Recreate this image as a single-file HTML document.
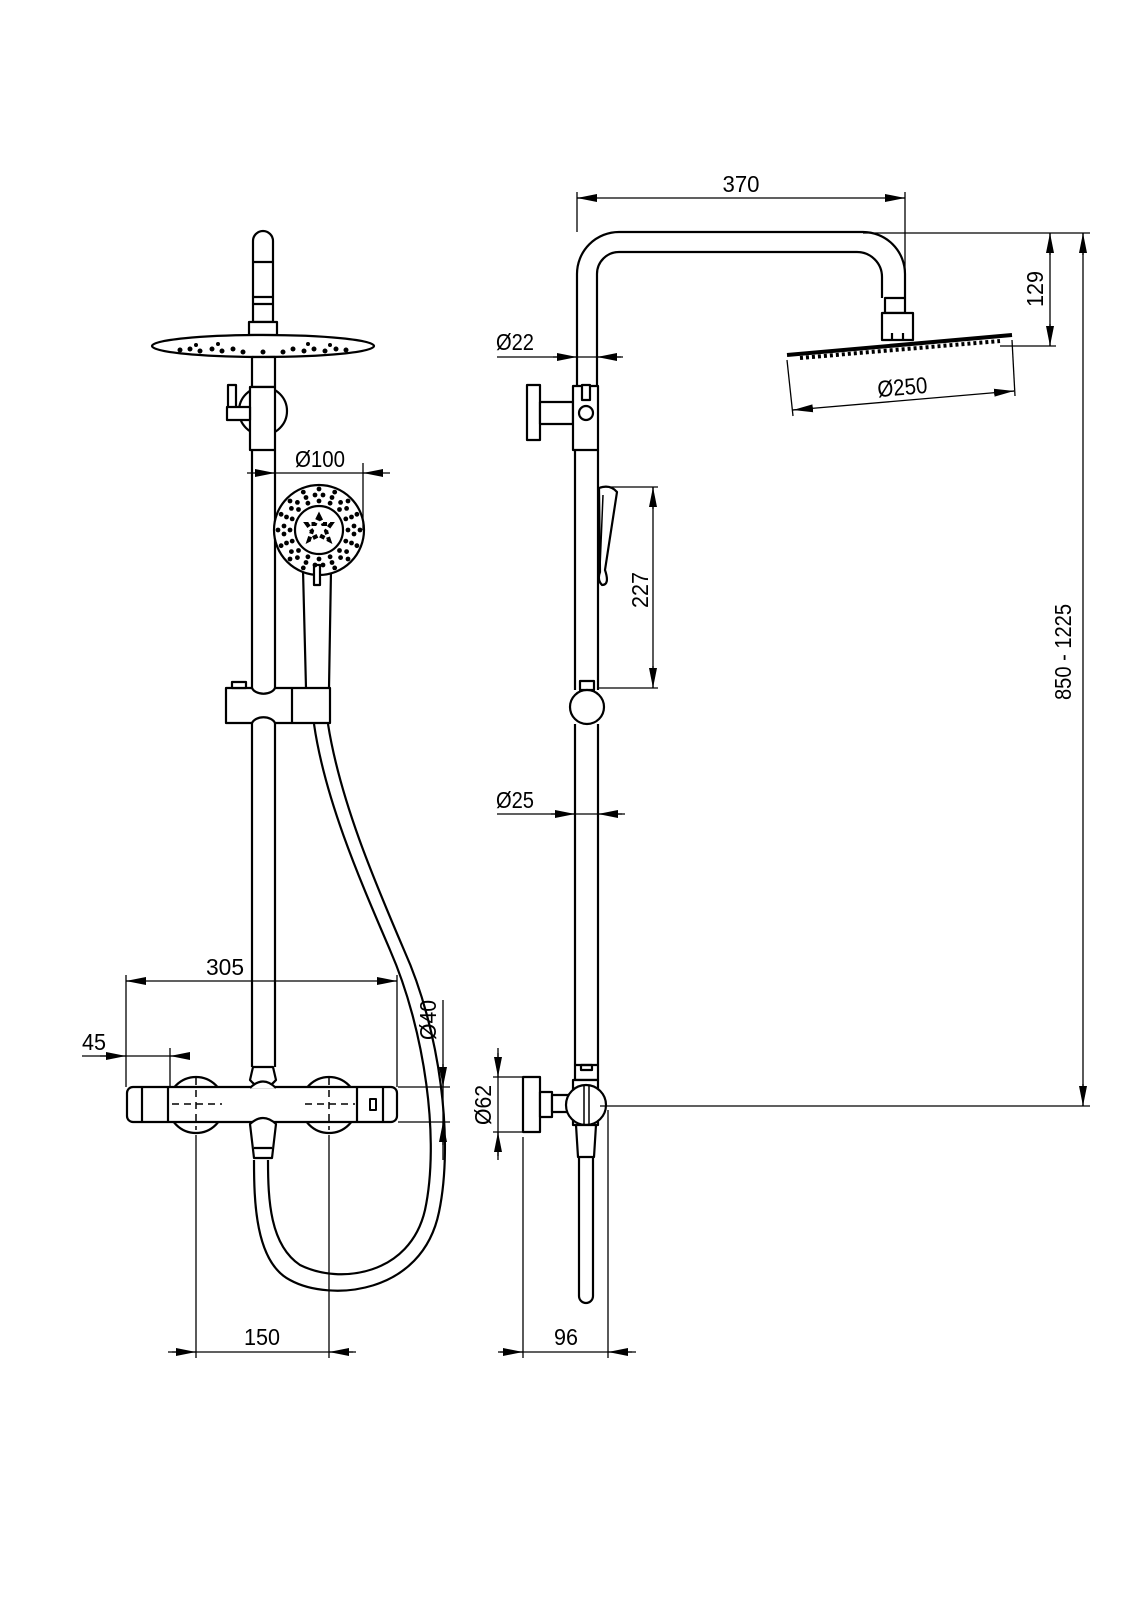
<!DOCTYPE html>
<html><head><meta charset="utf-8"><style>html,body{margin:0;padding:0;background:#fff}svg{display:block}</style></head><body>
<svg xmlns="http://www.w3.org/2000/svg" width="1131" height="1600" viewBox="0 0 1131 1600">
<defs>
<marker id="a" markerUnits="userSpaceOnUse" markerWidth="20" markerHeight="8" viewBox="0 0 20 8" refX="20" refY="4" orient="auto"><path d="M0,0 L20,4 L0,8z" fill="#000"/></marker>
</defs>
<rect width="1131" height="1600" fill="#fff"/>
<g fill="none" stroke="#000" stroke-width="2.2" stroke-linejoin="round">
<path d="M253,297 V241 A10,10 0 0 1 273,241 V297"/>
<line x1="253" y1="262" x2="273" y2="262"/>
<rect x="253" y="297" width="20" height="25" fill="#fff"/>
<line x1="253" y1="304" x2="273" y2="304"/>
<rect x="249" y="322" width="28" height="13" fill="#fff"/>
<ellipse cx="263" cy="346" rx="111" ry="11" fill="#fff"/>
<circle cx="263" cy="411" r="24" fill="#fff"/>
<rect x="252" y="357" width="23" height="30" fill="#fff"/>
<rect x="250" y="387" width="25" height="63" fill="#fff"/>
<rect x="228" y="385" width="8" height="30" fill="#fff"/>
<rect x="227" y="407" width="23" height="13" fill="#fff"/>
<line x1="252" y1="450" x2="252" y2="688"/>
<line x1="275" y1="450" x2="275" y2="688"/>
<path d="M303,570 L306,688 M331,570 L329,688"/>
<circle cx="319" cy="530" r="45" fill="#fff"/>
<circle cx="319" cy="530" r="24"/>
<rect x="314" y="565" width="6" height="20" fill="#fff"/>
<path d="M226,688 H252 A12,8 0 0 0 275,688 H330 V723 H275 A12,8 0 0 0 252,723 H226 Z" fill="#fff"/>
<line x1="292" y1="688" x2="292" y2="723"/>
<rect x="232" y="682" width="14" height="6" fill="#fff"/>
<line x1="252" y1="723" x2="252" y2="1067"/>
<line x1="275" y1="723" x2="275" y2="1067"/>
<path d="M253,1067 H273 L276,1080 Q263,1095 250,1080 Z"/>
<path d="M314,724 C325,800 360,880 390,950 C425,1030 440,1140 425,1210 C410,1275 340,1285 300,1265 C270,1245 268,1200 268,1160"/>
<path d="M328,724 C340,800 374,880 404,950 C440,1030 454,1140 439,1212 C422,1295 330,1302 290,1280 C255,1262 254,1200 254,1160"/>
<circle cx="196" cy="1105" r="28"/>
<circle cx="329" cy="1105" r="28"/>
<rect x="127" y="1087" width="270" height="35" rx="6" fill="#fff"/>
<line x1="142" y1="1087" x2="142" y2="1122"/><line x1="168" y1="1087" x2="168" y2="1122"/>
<line x1="357" y1="1087" x2="357" y2="1122"/><line x1="383" y1="1087" x2="383" y2="1122"/>
<rect x="370" y="1099" width="6" height="11" stroke-width="2"/>
<path d="M250,1088 Q263,1075 276,1088" fill="#fff"/>
<path d="M250,1124 Q263,1112 276,1124 L272,1158 H254 Z" fill="#fff"/>
<line x1="254" y1="1148" x2="272" y2="1148"/>
<path d="M577,386 V274 A42,42 0 0 1 619,232 H863 A42,42 0 0 1 905,274 V298"/>
<path d="M597,386 V274 A22,22 0 0 1 619,252 H857 A25,25 0 0 1 882,277 V298"/>
<rect x="885" y="298" width="20" height="15" fill="#fff"/>
<rect x="882" y="313" width="31" height="27" fill="#fff"/>
<line x1="892" y1="333" x2="892" y2="340"/><line x1="903" y1="333" x2="903" y2="340"/>
<path d="M787,355 L1012,335" stroke-width="4"/>
<rect x="527" y="385" width="13" height="55" fill="#fff"/>
<rect x="540" y="402" width="33" height="22" fill="#fff"/>
<rect x="573" y="386" width="25" height="64" fill="#fff"/>
<rect x="582" y="385" width="8" height="15" fill="#fff"/>
<circle cx="586" cy="413" r="7" fill="#fff"/>
<line x1="575" y1="450" x2="575" y2="690"/>
<line x1="598" y1="450" x2="598" y2="690"/>
<path d="M599,488 Q610,484 617,492 L605,570 Q610,585 602,585 Q597,580 600,572 Z" fill="#fff"/>
<path d="M603,495 L600,568" stroke-width="1.5"/>
<rect x="580" y="681" width="14" height="9" fill="#fff"/>
<circle cx="587" cy="707" r="17" fill="#fff"/>
<line x1="575" y1="724" x2="575" y2="1065"/>
<line x1="598" y1="724" x2="598" y2="1065"/>
<rect x="575" y="1065" width="23" height="15" fill="#fff"/>
<rect x="581" y="1065" width="11" height="5"/>
<rect x="523" y="1077" width="17" height="55" fill="#fff"/>
<rect x="540" y="1092" width="12" height="25" fill="#fff"/>
<rect x="552" y="1095" width="20" height="17" fill="#fff"/>
<rect x="573" y="1080" width="25" height="45" fill="#fff"/>
<circle cx="586" cy="1105" r="20" fill="#fff"/>
<line x1="584" y1="1086" x2="584" y2="1124" stroke-width="1.5"/><line x1="589" y1="1086" x2="589" y2="1124" stroke-width="1.5"/>
<path d="M576,1125 H596 L594,1157 H578 Z" fill="#fff"/>
<path d="M579,1157 V1296 A7,7 0 0 0 593,1296 V1157"/>
</g>
<g fill="#000">
<circle cx="180" cy="350" r="2.5"/><circle cx="190" cy="349" r="2.5"/><circle cx="200" cy="351" r="2.5"/><circle cx="212" cy="349" r="2.5"/><circle cx="222" cy="351" r="2.5"/><circle cx="233" cy="349" r="2.5"/><circle cx="243" cy="352" r="2.5"/><circle cx="263" cy="352" r="2.5"/><circle cx="283" cy="352" r="2.5"/><circle cx="293" cy="349" r="2.5"/><circle cx="304" cy="351" r="2.5"/><circle cx="314" cy="349" r="2.5"/><circle cx="325" cy="351" r="2.5"/><circle cx="336" cy="349" r="2.5"/><circle cx="346" cy="350" r="2.5"/>
<circle cx="196" cy="345" r="2"/><circle cx="218" cy="344" r="2"/><circle cx="308" cy="344" r="2"/><circle cx="330" cy="345" r="2"/>
</g>
<g stroke="#000" stroke-width="4" stroke-dasharray="3 3"><path d="M800,358 L1000,341"/></g>
<g fill="#000">
<g transform="translate(319,530)">
<circle r="2.4" cx="29" cy="0"/><circle r="2.4" cx="-29" cy="0"/><circle r="2.4" cx="0" cy="29"/><circle r="2.4" cx="0" cy="-29"/>
<circle r="2.4" cx="20.5" cy="20.5"/><circle r="2.4" cx="-20.5" cy="20.5"/><circle r="2.4" cx="20.5" cy="-20.5"/><circle r="2.4" cx="-20.5" cy="-20.5"/>
<circle r="2.4" cx="26.8" cy="11.1"/><circle r="2.4" cx="-26.8" cy="11.1"/><circle r="2.4" cx="26.8" cy="-11.1"/><circle r="2.4" cx="-26.8" cy="-11.1"/>
<circle r="2.4" cx="11.1" cy="26.8"/><circle r="2.4" cx="-11.1" cy="26.8"/><circle r="2.4" cx="11.1" cy="-26.8"/><circle r="2.4" cx="-11.1" cy="-26.8"/>
<circle r="2.4" cx="35" cy="4"/><circle r="2.4" cx="-35" cy="4"/><circle r="2.4" cx="4" cy="35"/><circle r="2.4" cx="4" cy="-35"/><circle r="2.4" cx="-4" cy="-35"/><circle r="2.4" cx="-4" cy="35"/><circle r="2.4" cx="35" cy="-4"/><circle r="2.4" cx="-35" cy="-4"/>
<circle r="2.4" cx="27.6" cy="21.6"/><circle r="2.4" cx="-27.6" cy="21.6"/><circle r="2.4" cx="27.6" cy="-21.6"/><circle r="2.4" cx="-27.6" cy="-21.6"/>
<circle r="2.4" cx="21.6" cy="27.6"/><circle r="2.4" cx="-21.6" cy="27.6"/><circle r="2.4" cx="21.6" cy="-27.6"/><circle r="2.4" cx="-21.6" cy="-27.6"/>
<circle r="2.4" cx="32.5" cy="13"/><circle r="2.4" cx="-32.5" cy="13"/><circle r="2.4" cx="32.5" cy="-13"/><circle r="2.4" cx="-32.5" cy="-13"/>
<circle r="2.4" cx="13" cy="32.5"/><circle r="2.4" cx="-13" cy="32.5"/><circle r="2.4" cx="13" cy="-32.5"/><circle r="2.4" cx="-13" cy="-32.5"/>
<circle r="2.4" cx="41" cy="0"/><circle r="2.4" cx="-41" cy="0"/><circle r="2.4" cx="0" cy="-41"/>
<circle r="2.4" cx="37.9" cy="15.7"/><circle r="2.4" cx="-37.9" cy="15.7"/><circle r="2.4" cx="37.9" cy="-15.7"/><circle r="2.4" cx="-37.9" cy="-15.7"/>
<circle r="2.4" cx="29" cy="29"/><circle r="2.4" cx="-29" cy="29"/><circle r="2.4" cx="29" cy="-29"/><circle r="2.4" cx="-29" cy="-29"/>
<circle r="2.4" cx="15.7" cy="37.9"/><circle r="2.4" cx="-15.7" cy="37.9"/><circle r="2.4" cx="15.7" cy="-37.9"/><circle r="2.4" cx="-15.7" cy="-37.9"/>
<path d="M0,-14 L4,-6 L12,-6 L7,1 L10,10 L0,5 L-10,10 L-7,1 L-12,-6 L-4,-6 Z" fill="none" stroke="#000" stroke-width="4" stroke-dasharray="5 3"/>
</g>
</g>
<g stroke="#000" stroke-width="1.5" stroke-dasharray="7 5" fill="none">
<line x1="172" y1="1104" x2="222" y2="1104"/><line x1="196" y1="1078" x2="196" y2="1130"/>
<line x1="305" y1="1104" x2="355" y2="1104"/><line x1="329" y1="1078" x2="329" y2="1130"/>
</g>
<g stroke="#000" stroke-width="1.3" fill="none">
<line x1="247" y1="473" x2="390" y2="473"/><line x1="363" y1="463" x2="363" y2="530"/>
<line x1="126" y1="981" x2="397" y2="981"/><line x1="126" y1="975" x2="126" y2="1087"/><line x1="397" y1="975" x2="397" y2="1087"/>
<line x1="82" y1="1056" x2="190" y2="1056"/><line x1="170" y1="1048" x2="170" y2="1087"/>
<line x1="443" y1="1000" x2="443" y2="1160"/><line x1="398" y1="1087" x2="450" y2="1087"/><line x1="398" y1="1122" x2="450" y2="1122"/>
<line x1="168" y1="1352" x2="356" y2="1352"/><line x1="196" y1="1135" x2="196" y2="1358"/><line x1="329" y1="1135" x2="329" y2="1358"/>
<line x1="577" y1="198" x2="905" y2="198"/><line x1="577" y1="192" x2="577" y2="232"/><line x1="905" y1="192" x2="905" y2="300"/>
<line x1="497" y1="357" x2="623" y2="357"/>
<line x1="863" y1="233" x2="1090" y2="233"/><line x1="1000" y1="346" x2="1056" y2="346"/>
<line x1="1050" y1="233" x2="1050" y2="346"/>
<line x1="1083" y1="233" x2="1083" y2="1106"/><line x1="600" y1="1106" x2="1090" y2="1106"/>
<line x1="787" y1="360" x2="793" y2="416"/><line x1="1012" y1="340" x2="1015" y2="396"/><line x1="793" y1="410" x2="1014" y2="391"/>
<line x1="600" y1="487" x2="658" y2="487"/><line x1="598" y1="688" x2="658" y2="688"/><line x1="653" y1="487" x2="653" y2="688"/>
<line x1="497" y1="814" x2="625" y2="814"/>
<line x1="498" y1="1048" x2="498" y2="1160"/><line x1="493" y1="1077" x2="522" y2="1077"/><line x1="493" y1="1132" x2="522" y2="1132"/>
<line x1="498" y1="1352" x2="636" y2="1352"/><line x1="523" y1="1137" x2="523" y2="1358"/><line x1="608" y1="1110" x2="608" y2="1358"/>
</g>
<g stroke="#000" stroke-width="1.3" marker-end="url(#a)">
<line x1="255" y1="473" x2="275" y2="473"/><line x1="383" y1="473" x2="363" y2="473"/>
<line x1="146" y1="981" x2="126" y2="981"/><line x1="377" y1="981" x2="397" y2="981"/>
<line x1="100" y1="1056" x2="126" y2="1056"/><line x1="190" y1="1056" x2="170" y2="1056"/>
<line x1="443" y1="1064" x2="443" y2="1087"/><line x1="443" y1="1145" x2="443" y2="1122"/>
<line x1="172" y1="1352" x2="196" y2="1352"/><line x1="353" y1="1352" x2="329" y2="1352"/>
<line x1="597" y1="198" x2="577" y2="198"/><line x1="885" y1="198" x2="905" y2="198"/>
<line x1="553" y1="357" x2="577" y2="357"/><line x1="621" y1="357" x2="597" y2="357"/>
<line x1="1050" y1="255" x2="1050" y2="233"/><line x1="1050" y1="324" x2="1050" y2="346"/>
<line x1="1083" y1="255" x2="1083" y2="233"/><line x1="1083" y1="1084" x2="1083" y2="1106"/>
<line x1="653" y1="509" x2="653" y2="487"/><line x1="653" y1="666" x2="653" y2="688"/>
<line x1="551" y1="814" x2="575" y2="814"/><line x1="622" y1="814" x2="598" y2="814"/>
<line x1="498" y1="1053" x2="498" y2="1077"/><line x1="498" y1="1156" x2="498" y2="1132"/>
<line x1="500" y1="1352" x2="523" y2="1352"/><line x1="632" y1="1352" x2="608" y2="1352"/>
<line x1="813" y1="408.3" x2="793" y2="410"/><line x1="994" y1="392.7" x2="1014" y2="391"/>
</g>
<g font-family="'Liberation Sans Narrow','Liberation Sans',sans-serif" font-size="23" fill="#000" text-anchor="middle">
<text x="320" y="467" textLength="50" lengthAdjust="spacingAndGlyphs">Ø100</text>
<text x="225" y="975" textLength="38" lengthAdjust="spacingAndGlyphs">305</text>
<text x="94" y="1050" textLength="24" lengthAdjust="spacingAndGlyphs">45</text>
<text transform="translate(436,1020) rotate(-90)" textLength="40" lengthAdjust="spacingAndGlyphs">Ø40</text>
<text x="262" y="1345" textLength="36" lengthAdjust="spacingAndGlyphs">150</text>
<text x="741" y="192" textLength="37" lengthAdjust="spacingAndGlyphs">370</text>
<text x="515" y="350" textLength="38" lengthAdjust="spacingAndGlyphs">Ø22</text>
<text transform="translate(1043,289) rotate(-90)" textLength="36" lengthAdjust="spacingAndGlyphs">129</text>
<text transform="translate(1071,652) rotate(-90)" textLength="96" lengthAdjust="spacingAndGlyphs">850 - 1225</text>
<text transform="translate(903,395) rotate(-5)" textLength="50" lengthAdjust="spacingAndGlyphs">Ø250</text>
<text transform="translate(648,590) rotate(-90)" textLength="36" lengthAdjust="spacingAndGlyphs">227</text>
<text x="515" y="808" textLength="38" lengthAdjust="spacingAndGlyphs">Ø25</text>
<text transform="translate(491,1105) rotate(-90)" textLength="40" lengthAdjust="spacingAndGlyphs">Ø62</text>
<text x="566" y="1345" textLength="24" lengthAdjust="spacingAndGlyphs">96</text>
</g>
</svg>
</body></html>
